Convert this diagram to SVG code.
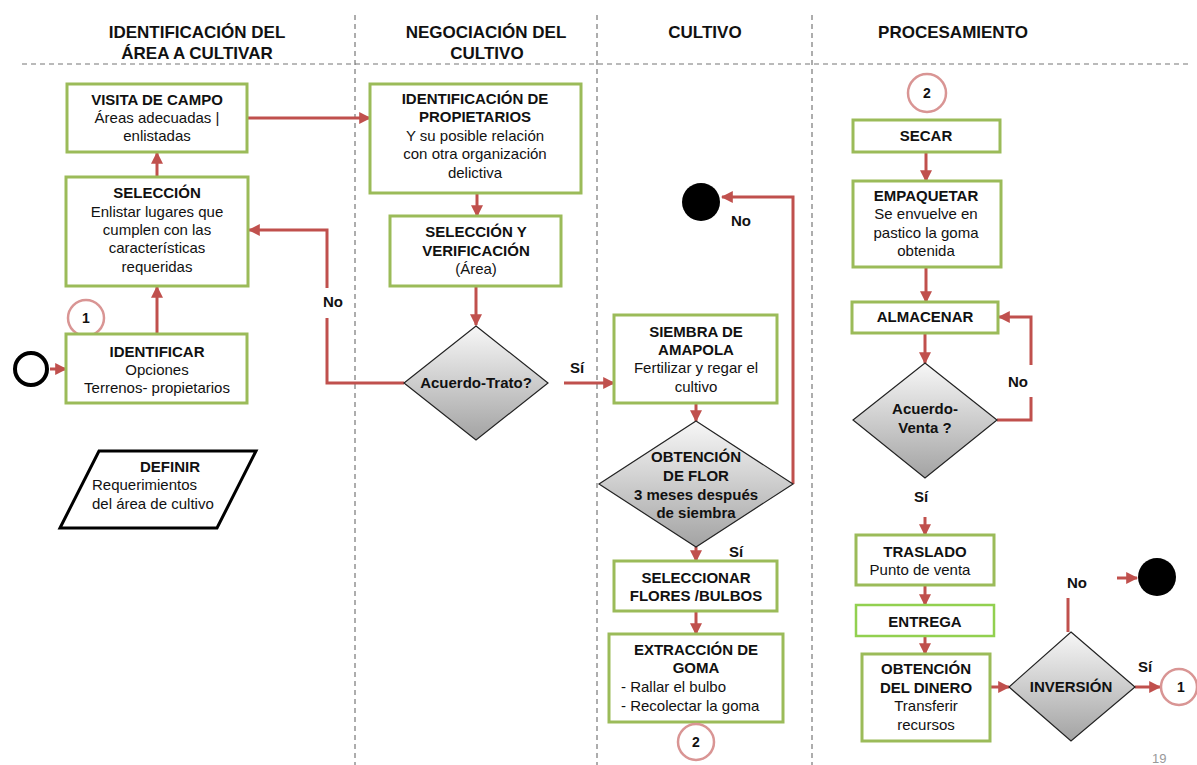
<svg xmlns="http://www.w3.org/2000/svg" width="1197" height="765" viewBox="0 0 1197 765">
<style>
text{font-family:"Liberation Sans",Arial,sans-serif;fill:#111;}
.t{font-size:17px;font-weight:bold;text-anchor:middle;}
.b{font-size:15px;font-weight:bold;text-anchor:middle;}
.n{font-size:15px;text-anchor:middle;}
.l{font-size:15px;}
.lb{font-size:15px;font-weight:bold;}
.box{fill:#fff;stroke:#9bbb59;stroke-width:3;}
.dia{fill:url(#g);stroke:#222;stroke-width:1.2;}
.pc{fill:#fff;stroke:#d99594;stroke-width:2.5;}
.c{fill:none;stroke:#c0504d;stroke-width:3;}
.a{marker-end:url(#ah);}
.lane{stroke:#777;stroke-width:1.2;stroke-dasharray:5,4;fill:none;}
</style>
<defs>
<linearGradient id="g" x1="0" y1="0" x2="0" y2="1">
<stop offset="0" stop-color="#f7f7f7"/>
<stop offset="1" stop-color="#a3a3a3"/>
</linearGradient>
<marker id="ah" markerUnits="userSpaceOnUse" markerWidth="12" markerHeight="12" viewBox="0 0 10 10" refX="9" refY="5" orient="auto">
<path d="M0,0 L10,5 L0,10 z" fill="#c0504d"/>
</marker>
</defs>
<rect width="1197" height="765" fill="#fff"/>
<g id="lanes">
<line class="lane" x1="22" y1="64" x2="1188" y2="64"/>
<line class="lane" x1="355" y1="15" x2="355" y2="765"/>
<line class="lane" x1="597" y1="15" x2="597" y2="765"/>
<line class="lane" x1="812" y1="15" x2="812" y2="765"/>
<text class="t" x="197" y="38">IDENTIFICACIÓN DEL</text>
<text class="t" x="197" y="59">ÁREA A CULTIVAR</text>
<text class="t" x="486" y="38">NEGOCIACIÓN DEL</text>
<text class="t" x="487" y="59">CULTIVO</text>
<text class="t" x="705" y="38">CULTIVO</text>
<text class="t" x="953" y="38">PROCESAMIENTO</text>
</g>
<g id="connectors">
<line class="c a" x1="50" y1="369" x2="66" y2="369"/>
<line class="c a" x1="157" y1="334" x2="157" y2="287"/>
<line class="c a" x1="157" y1="177" x2="157" y2="153"/>
<line class="c a" x1="247" y1="118" x2="370" y2="118"/>
<line class="c a" x1="477" y1="193" x2="477" y2="216"/>
<line class="c a" x1="476" y1="286" x2="476" y2="325"/>
<path class="c" d="M404,383 H327 V318"/>
<path class="c a" d="M327,288 V230 H249"/>
<line class="c a" x1="564" y1="383" x2="614" y2="383"/>
<line class="c a" x1="696" y1="403" x2="696" y2="421"/>
<path class="c a" d="M793,484 V197 H722"/>
<line class="c a" x1="696" y1="547" x2="696" y2="561"/>
<line class="c a" x1="696" y1="611" x2="696" y2="634"/>
<line class="c a" x1="926" y1="152" x2="926" y2="181"/>
<line class="c a" x1="926" y1="267" x2="926" y2="302"/>
<line class="c a" x1="925" y1="333" x2="925" y2="363"/>
<path class="c" d="M997,420 H1031 V397"/>
<path class="c a" d="M1031,365 V317 H999"/>
<line class="c a" x1="925" y1="517" x2="925" y2="535"/>
<line class="c a" x1="925" y1="585" x2="925" y2="605"/>
<line class="c a" x1="925" y1="636" x2="925" y2="654"/>
<line class="c a" x1="990" y1="687" x2="1009" y2="687"/>
<line class="c" x1="1068" y1="632" x2="1068" y2="598"/>
<line class="c a" x1="1117" y1="578" x2="1137" y2="578"/>
<line class="c a" x1="1135" y1="687" x2="1160" y2="687"/>
<text class="lb" x="323" y="307">No</text>
<text class="lb" x="570" y="373">Sí</text>
<text class="lb" x="731" y="226">No</text>
<text class="lb" x="729" y="557">Sí</text>
<text class="lb" x="1008" y="387">No</text>
<text class="lb" x="914" y="502">Sí</text>
<text class="lb" x="1067" y="588">No</text>
<text class="lb" x="1138" y="672">Sí</text>
</g>
<g id="start"><circle cx="31" cy="369" r="16" fill="none" stroke="#000" stroke-width="4"/></g>
<g id="c1a"><circle class="pc" cx="86" cy="318" r="18"/><text class="b" x="86" y="323" style="font-size:14px">1</text></g>
<g id="visita"><rect class="box" x="67" y="84" width="180" height="68"/>
<text class="b" x="157" y="105">VISITA DE CAMPO</text>
<text class="n" x="157" y="123">Áreas adecuadas |</text>
<text class="n" x="157" y="141">enlistadas</text></g>
<g id="seleccion"><rect class="box" x="66" y="177" width="182" height="109"/>
<text class="b" x="157" y="198">SELECCIÓN</text>
<text class="n" x="157" y="217">Enlistar lugares que</text>
<text class="n" x="157" y="235">cumplen con las</text>
<text class="n" x="157" y="253">características</text>
<text class="n" x="157" y="272">requeridas</text></g>
<g id="identificar"><rect class="box" x="66" y="334" width="181" height="69"/>
<text class="b" x="157" y="357">IDENTIFICAR</text>
<text class="n" x="157" y="375">Opciones</text>
<text class="n" x="157" y="393">Terrenos- propietarios</text></g>
<g id="definir"><polygon points="60,528 99,451 256,451 217,528" fill="#fff" stroke="#000" stroke-width="3" stroke-linejoin="miter"/>
<text class="b" x="170" y="472">DEFINIR</text>
<text class="l" x="92" y="490">Requerimientos</text>
<text class="l" x="92" y="509">del área de cultivo</text></g>
<g id="propietarios"><rect class="box" x="370" y="84" width="211" height="109"/>
<text class="b" x="475" y="104">IDENTIFICACIÓN DE</text>
<text class="b" x="475" y="122">PROPIETARIOS</text>
<text class="n" x="475" y="141">Y su posible relación</text>
<text class="n" x="475" y="159">con otra organización</text>
<text class="n" x="475" y="178">delictiva</text></g>
<g id="verificacion"><rect class="box" x="390" y="216" width="171" height="70"/>
<text class="b" x="476" y="237">SELECCIÓN Y</text>
<text class="b" x="476" y="256">VERIFICACIÓN</text>
<text class="n" x="476" y="274">(Área)</text></g>
<g id="trato"><polygon class="dia" points="476,326 548,383 476,440 404,383"/>
<text class="b" x="476" y="388">Acuerdo-Trato?</text></g>
<g id="siembra"><rect class="box" x="614" y="315" width="163" height="88"/>
<text class="b" x="696" y="337">SIEMBRA DE</text>
<text class="b" x="696" y="355">AMAPOLA</text>
<text class="n" x="696" y="373">Fertilizar y regar el</text>
<text class="n" x="696" y="392">cultivo</text></g>
<g id="flor"><polygon class="dia" points="696,421 793,484 696,547 599,484"/>
<text class="b" x="696" y="462">OBTENCIÓN</text>
<text class="b" x="696" y="481">DE FLOR</text>
<text class="b" x="696" y="500">3 meses después</text>
<text class="b" x="696" y="518">de siembra</text></g>
<g id="end1"><circle cx="701" cy="202" r="19" fill="#000"/></g>
<g id="seleccionar"><rect class="box" x="614" y="561" width="163" height="50"/>
<text class="b" x="696" y="583">SELECCIONAR</text>
<text class="b" x="696" y="601">FLORES /BULBOS</text></g>
<g id="extraccion"><rect class="box" x="609" y="634" width="174" height="88"/>
<text class="b" x="696" y="655">EXTRACCIÓN DE</text>
<text class="b" x="696" y="673">GOMA</text>
<text class="l" x="621" y="692">- Rallar el bulbo</text>
<text class="l" x="621" y="711">- Recolectar la goma</text></g>
<g id="c2b"><circle class="pc" cx="696" cy="742" r="18"/><text class="b" x="696" y="747" style="font-size:14px">2</text></g>
<g id="c2a"><circle class="pc" cx="927" cy="93" r="19"/><text class="b" x="927" y="98" style="font-size:14px">2</text></g>
<g id="secar"><rect class="box" x="853" y="120" width="147" height="32"/>
<text class="b" x="926" y="141">SECAR</text></g>
<g id="empaquetar"><rect class="box" x="853" y="181" width="148" height="86"/>
<text class="b" x="926" y="201">EMPAQUETAR</text>
<text class="n" x="926" y="219">Se envuelve en</text>
<text class="n" x="926" y="238">pastico la goma</text>
<text class="n" x="926" y="256">obtenida</text></g>
<g id="almacenar"><rect class="box" x="852" y="302" width="146" height="31"/>
<text class="b" x="925" y="322">ALMACENAR</text></g>
<g id="venta"><polygon class="dia" points="925,363 997,420 925,478 853,420"/>
<text class="b" x="925" y="414">Acuerdo-</text>
<text class="b" x="925" y="433">Venta ?</text></g>
<g id="traslado"><rect class="box" x="856" y="535" width="138" height="50"/>
<text class="b" x="925" y="557">TRASLADO</text>
<text class="n" x="920" y="575">Punto de venta</text></g>
<g id="entrega"><rect x="856" y="605" width="138" height="31" fill="#fff" stroke="#92d050" stroke-width="2.5"/>
<text class="b" x="925" y="627">ENTREGA</text></g>
<g id="dinero"><rect class="box" x="862" y="654" width="128" height="87"/>
<text class="b" x="926" y="674">OBTENCIÓN</text>
<text class="b" x="926" y="693">DEL DINERO</text>
<text class="n" x="926" y="711">Transferir</text>
<text class="n" x="926" y="730">recursos</text></g>
<g id="inversion"><polygon class="dia" points="1071,632 1135,687 1071,741 1009,687"/>
<text class="b" x="1071" y="692">INVERSIÓN</text></g>
<g id="end2"><circle cx="1157" cy="577" r="19" fill="#000"/></g>
<g id="c1b"><circle class="pc" cx="1179" cy="687" r="18"/><text class="b" x="1181" y="692" style="font-size:14px">1</text></g>
<text x="1152" y="763" style="font-size:13px;fill:#999">19</text>
</svg>
